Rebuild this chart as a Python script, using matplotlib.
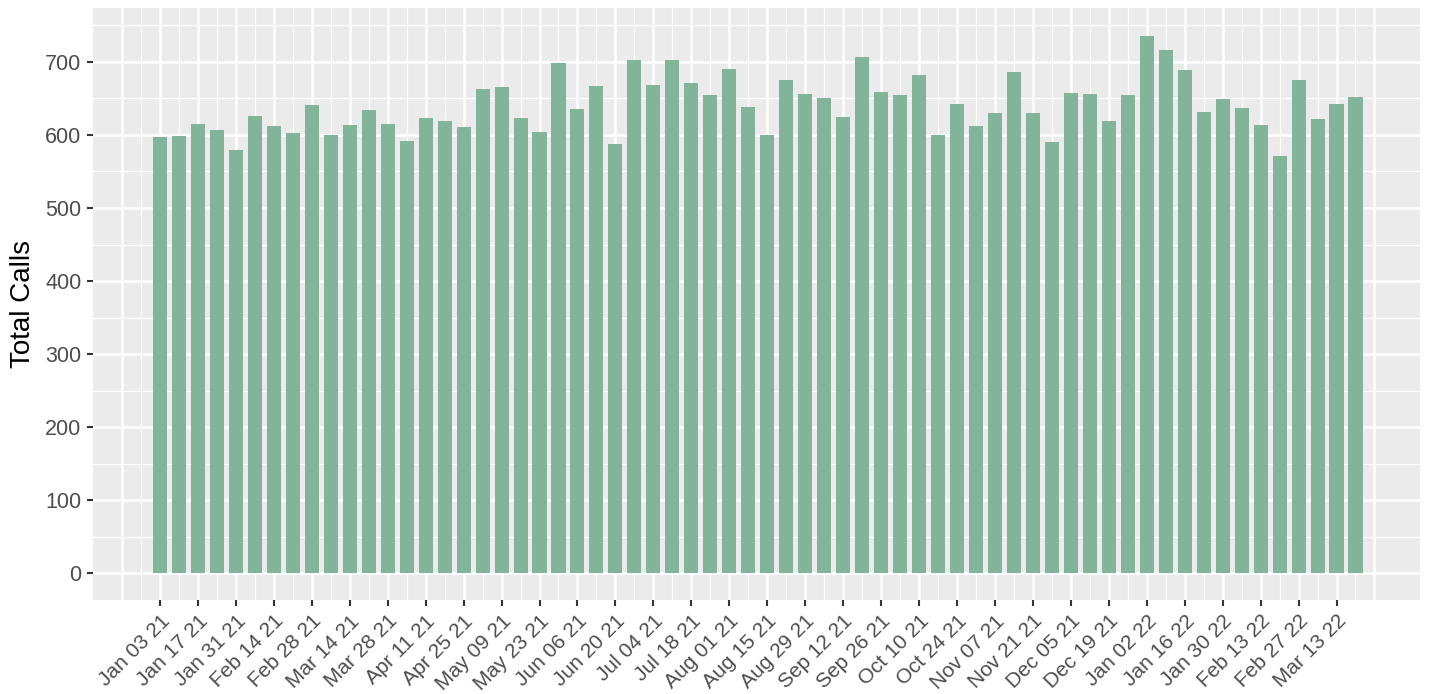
import numpy as np
import pandas as pd
import matplotlib
matplotlib.use('Agg')
import matplotlib.pyplot as plt

# Weekly call totals, weeks starting Sunday Jan 03 2021
week_start = pd.date_range('2021-01-03', periods=64, freq='7D')
total_calls = [597, 599, 615, 607, 580, 626, 612, 603, 641, 600,
               614, 634, 615, 592, 623, 619, 611, 663, 666, 623,
               604, 698, 635, 667, 588, 703, 668, 703, 671, 655,
               690, 638, 600, 675, 656, 650, 624, 707, 659, 655,
               682, 600, 643, 612, 630, 686, 630, 591, 657, 656,
               619, 655, 736, 716, 689, 631, 649, 637, 614, 571,
               675, 622, 642, 652]
tick_labels = [d.strftime('%b %d %y') for d in week_start[::2]]

bar_color = '#82B39B'
panel_bg = '#EBEBEB'
text_grey = '#4D4D4D'

plt.rcParams['font.family'] = ['Liberation Sans', 'DejaVu Sans']

fig = plt.figure(figsize=(14.3, 6.94), dpi=100)
ax = fig.add_axes([93 / 1430, 1 - 600 / 694, (1420 - 93) / 1430, (600 - 8) / 694])
ax.set_facecolor(panel_bg)

x = np.arange(len(total_calls))

# grid lines (ggplot style: major at breaks, minor midway)
for i in range(-2, 65):
    lw = 1.8 if i % 2 == 0 else 0.9
    ax.axvline(i, color='white', lw=lw, zorder=0)
for v in range(0, 800, 50):
    lw = 1.8 if v % 100 == 0 else 0.9
    ax.axhline(v, color='white', lw=lw, zorder=0)

ax.bar(x, total_calls, width=0.74, color=bar_color, zorder=2)

ax.set_xlim(-3.53, 66.4)
ax.set_ylim(-36.8, 773.9)

ax.set_xticks(x[::2])
ax.set_xticklabels(tick_labels, rotation=45, ha='right', rotation_mode='anchor',
                   fontsize=15, color=text_grey)
ax.set_yticks(range(0, 701, 100))
ax.set_yticklabels([str(v) for v in range(0, 701, 100)], fontsize=15.5, color=text_grey)
ax.tick_params(axis='both', length=4.3, width=1.5, color='#333333', pad=4)

ax.set_ylabel('Total Calls', fontsize=20, color='black', labelpad=7)

for s in ax.spines.values():
    s.set_visible(False)

fig.savefig('out.png', dpi=100)
